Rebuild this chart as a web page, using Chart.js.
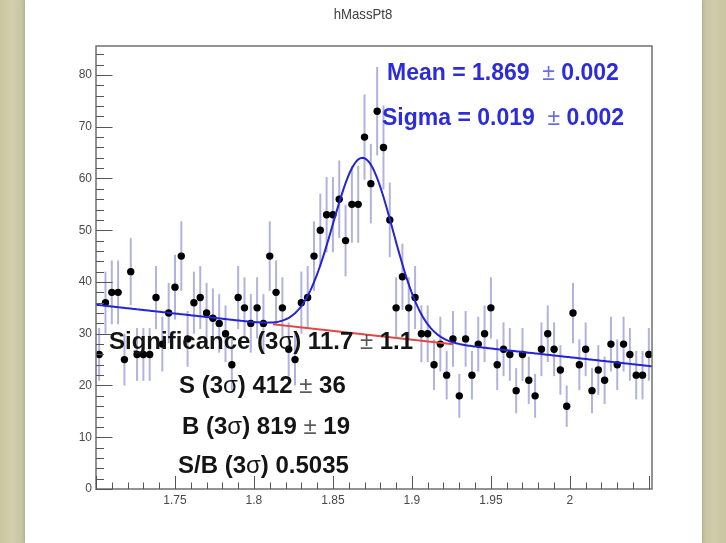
<!DOCTYPE html>
<html>
<head>
<meta charset="utf-8">
<title>hMassPt8</title>
<script src="https://cdn.jsdelivr.net/npm/chart.js@4.4.0/dist/chart.umd.min.js"></script>
<style>
  html, body { margin: 0; padding: 0; }
  body { width: 726px; height: 543px; overflow: hidden; position: relative;
         background: linear-gradient(90deg, #c9c5a2 0px, #d2cfae 12px, #c7c3a0 24px, #c7c3a0 702px, #d0cdab 714px, #c9c5a2 726px); }
  #panel { position: absolute; left: 25px; top: 0; width: 677px; height: 543px; background: #fff;
           box-shadow: 0 0 3px rgba(120, 115, 90, 0.5); }
  #massChart { position: absolute; left: 0; top: 0; }
</style>
</head>
<body>
<div id="panel"></div>
<canvas id="massChart" width="726" height="543"></canvas>
<script>
// Histogram binning (invariant mass)
const binLow = 1.700;
const binWidth = 0.004;

// Entries per bin
const counts = [
  26, 36, 38, 38, 25, 42, 26, 26, 26, 37,
  28, 34, 39, 45, 29, 36, 37, 34, 33, 32,
  30, 24, 37, 35, 32, 35, 32, 45, 38, 35,
  27, 25, 36, 37, 45, 50, 53, 53, 56, 48,
  55, 55, 68, 59, 73, 66, 52, 35, 41, 35,
  37, 30, 30, 24, 28, 22, 29, 18, 29, 22,
  28, 30, 35, 24, 27, 26, 19, 26, 21, 18,
  27, 30, 27, 23, 16, 34, 24, 27, 19, 23,
  21, 28, 24, 28, 26, 22, 22, 26
];

// Fit result: gaussian signal + linear background
const fitMean = 1.869;
const fitMeanErr = 0.002;
const fitSigma = 0.019;
const fitSigmaErr = 0.002;
const fitAmp = 34.1;
const bgAtLow = 35.6;
const bgSlope = -33.8;

// Axis ticks
const xTickValues = [1.75, 1.8, 1.85, 1.9, 1.95, 2];
const xTickLabels = ['1.75', '1.8', '1.85', '1.9', '1.95', '2'];
const yTickValues = [0, 10, 20, 30, 40, 50, 60, 70, 80];
const yTickLabels = ['0', '10', '20', '30', '40', '50', '60', '70', '80'];

const xMin = binLow;
const xMax = binLow + counts.length * binWidth;
const yMax = 85.6;

// Texts drawn on the pad
const titleText = 'hMassPt8';
const fitLines = [
  `Mean = ${fitMean.toFixed(3)}  ± ${fitMeanErr.toFixed(3)}`,
  `Sigma = ${fitSigma.toFixed(3)}  ± ${fitSigmaErr.toFixed(3)}`
];
const yieldLines = [
  'Significance (3σ) 11.7 ± 1.1',
  'S (3σ) 412 ± 36',
  'B (3σ) 819 ± 19',
  'S/B (3σ) 0.5035'
];

function background(x) {
  return bgAtLow + bgSlope * (x - binLow);
}
function fitTotal(x) {
  const d = (x - fitMean) / fitSigma;
  return background(x) + fitAmp * Math.exp(-0.5 * d * d);
}

const histPoints = counts.map((c, i) => ({ x: binLow + (i + 0.5) * binWidth, y: c }));

const fitCurve = [];
for (let i = 0; i <= 400; i++) {
  const x = xMin + (xMax - xMin) * i / 400;
  fitCurve.push({ x: x, y: fitTotal(x) });
}
const bgCurve = [
  { x: fitMean - 3 * fitSigma, y: background(fitMean - 3 * fitSigma) },
  { x: fitMean + 3 * fitSigma, y: background(fitMean + 3 * fitSigma) }
];

const FONT = '"Liberation Sans", Arial, Helvetica, sans-serif';

// sqrt(N) error bars under the markers
const errorBars = {
  id: 'errorBars',
  beforeDatasetsDraw(chart) {
    const ctx = chart.ctx;
    const xs = chart.scales.x, ys = chart.scales.y;
    ctx.save();
    ctx.strokeStyle = '#b2b2de';
    ctx.lineWidth = 2;
    histPoints.forEach(p => {
      const e = Math.sqrt(p.y);
      const px = xs.getPixelForValue(p.x);
      ctx.beginPath();
      ctx.moveTo(px, ys.getPixelForValue(p.y - e));
      ctx.lineTo(px, ys.getPixelForValue(Math.min(p.y + e, yMax)));
      ctx.stroke();
    });
    ctx.restore();
  }
};

// ROOT style frame with inward ticks
const rootFrame = {
  id: 'rootFrame',
  afterDatasetsDraw(chart) {
    const ctx = chart.ctx;
    const a = chart.chartArea;
    const xs = chart.scales.x, ys = chart.scales.y;
    ctx.save();
    ctx.strokeStyle = '#6f6f6f';
    ctx.lineWidth = 1.5;
    ctx.strokeRect(a.left, a.top, a.right - a.left, a.bottom - a.top);

    ctx.lineWidth = 1;
    ctx.strokeStyle = '#555';
    ctx.beginPath();
    // x axis: minor every 0.01, major every 0.05
    for (let k = 0; k <= 35; k++) {
      const v = 1.70 + k * 0.01;
      const px = Math.round(xs.getPixelForValue(v)) + 0.5;
      const len = (k % 5 === 0) ? 13 : 6.5;
      ctx.moveTo(px, a.bottom);
      ctx.lineTo(px, a.bottom - len);
    }
    // y axis: minor every 2, major every 10
    for (let v = 0; v <= 84; v += 2) {
      const py = Math.round(ys.getPixelForValue(v)) + 0.5;
      const len = (v % 10 === 0) ? 16.5 : 8;
      ctx.moveTo(a.left, py);
      ctx.lineTo(a.left + len, py);
    }
    ctx.stroke();

    ctx.fillStyle = '#4a4a4a';
    ctx.font = '12px ' + FONT;
    ctx.textBaseline = 'middle';
    ctx.textAlign = 'right';
    yTickValues.forEach((v, i) => {
      ctx.fillText(yTickLabels[i], a.left - 4, ys.getPixelForValue(v));
    });
    ctx.textAlign = 'center';
    xTickValues.forEach((v, i) => {
      ctx.fillText(xTickLabels[i], xs.getPixelForValue(v), a.bottom + 12);
    });

    ctx.fillStyle = '#404040';
    ctx.font = '15px ' + FONT;
    ctx.save();
    ctx.translate(363, 15);
    ctx.scale(0.88, 1);
    ctx.fillText(titleText, 0, 0);
    ctx.restore();
    ctx.restore();
  }
};

// bold text, with ± and σ in normal weight
function drawRich(ctx, text, x, y, size, color) {
  ctx.save();
  ctx.fillStyle = color;
  ctx.textBaseline = 'middle';
  ctx.textAlign = 'left';
  text.split(/([±σ])/).forEach(part => {
    if (!part) return;
    const thin = part === '±' || part === 'σ';
    ctx.font = (thin ? '' : 'bold ') + size + 'px ' + FONT;
    ctx.globalAlpha = (part === '±') ? 0.7 : 1;
    ctx.fillText(part, x, y);
    x += ctx.measureText(part).width;
  });
  ctx.restore();
}

const fitText = {
  id: 'fitText',
  afterDraw(chart) {
    const ctx = chart.ctx;
    drawRich(ctx, fitLines[0], 387, 74, 23, '#2c2cd8');
    drawRich(ctx, fitLines[1], 382, 119, 23, '#2c2cd8');
    drawRich(ctx, yieldLines[0], 109, 342, 24, '#141414');
    drawRich(ctx, yieldLines[1], 179, 386, 24, '#141414');
    drawRich(ctx, yieldLines[2], 182, 427, 24, '#141414');
    drawRich(ctx, yieldLines[3], 178, 466, 24, '#141414');
  }
};

new Chart(document.getElementById('massChart'), {
  type: 'scatter',
  data: {
    datasets: [
      {
        label: 'fit',
        type: 'line',
        data: fitCurve,
        borderColor: '#2424d0',
        borderWidth: 2,
        pointRadius: 0,
        tension: 0,
        order: 1
      },
      {
        label: 'background',
        type: 'line',
        data: bgCurve,
        borderColor: '#e04848',
        borderWidth: 2,
        pointRadius: 0,
        order: 2
      },
      {
        label: 'hMassPt8',
        data: histPoints,
        backgroundColor: '#000',
        borderWidth: 0,
        pointRadius: 3.7,
        order: 3
      }
    ]
  },
  options: {
    responsive: false,
    animation: false,
    layout: { padding: { left: 96, right: 74, top: 46, bottom: 54 } },
    plugins: { legend: { display: false }, tooltip: { enabled: false } },
    scales: {
      x: { type: 'linear', min: xMin, max: xMax, display: false },
      y: { type: 'linear', min: 0, max: yMax, display: false }
    }
  },
  plugins: [errorBars, rootFrame, fitText]
});
</script>
</body>
</html>
